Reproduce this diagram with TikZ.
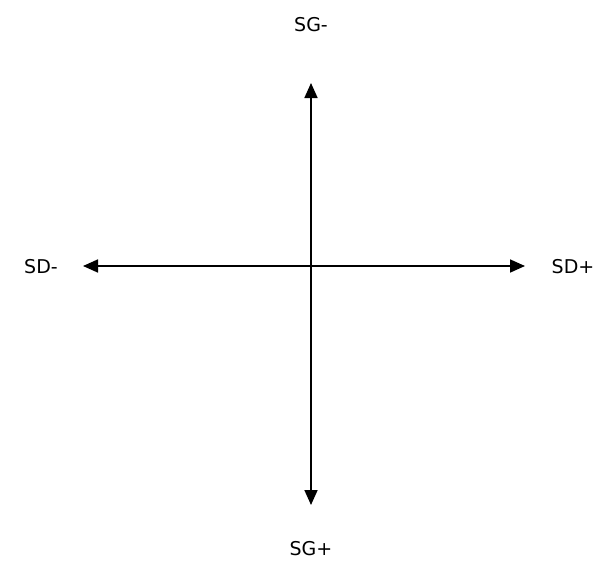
\documentclass[tikz,border=0pt]{standalone}
\usepackage{fontspec}
\setmainfont{DejaVu Sans}
\usetikzlibrary{arrows.meta}
\begin{document}
\begin{tikzpicture}[x=1pt,y=-1pt,
  axis/.style={line width=1.7pt,{Triangle[length=15pt,width=13pt]}-{Triangle[length=15pt,width=13pt]}},
  lab/.style={font=\fontsize{19}{22}\selectfont,inner sep=0pt}]
\useasboundingbox (0,0) rectangle (607,568);
\coordinate (top) at (311,83);
\coordinate (bot) at (311,505);
\coordinate (left) at (83,266);
\coordinate (right) at (525,266);
\draw[axis] (bot) -- (top);
\draw[axis] (left) -- (right);
\node[lab] (sgm) at (311,25) {SG-};
\node[lab] (sgp) at (311,549) {SG+};
\node[lab] (sdm) at (41,267) {SD-};
\node[lab] (sdp) at (573,267) {SD+};
\end{tikzpicture}
\end{document}
